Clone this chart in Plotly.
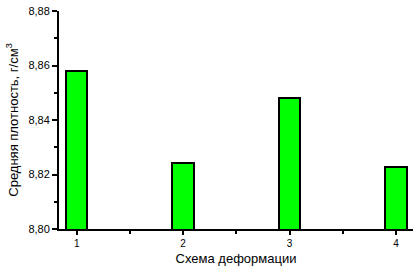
import plotly.graph_objects as go

schemes = [1, 2, 3, 4]
density = [8.858, 8.8244, 8.848, 8.8226]
y_ticks = [8.80, 8.82, 8.84, 8.86, 8.88]
x_title = "Схема деформации"
y_title = "Средняя плотность, г/см<sup>3</sup>"

fig = go.Figure()
fig.add_trace(go.Bar(
    x=schemes, y=density, width=0.2,
    marker=dict(color="#00FF00", line=dict(color="black", width=2)),
))

font = dict(family="Liberation Sans, Arial, sans-serif", color="black")
fig.update_layout(
    width=418, height=269,
    margin=dict(l=59, r=5, t=10, b=38),
    plot_bgcolor="white", paper_bgcolor="white",
    separators=", ",
    showlegend=False,
    font=dict(size=11, **font),
    bargap=0,
)
fig.update_xaxes(
    range=[0.834, 4.16], tickvals=schemes, ticktext=[str(s) for s in schemes],
    ticks="outside", ticklen=4, tickwidth=2, tickcolor="black",
    showline=True, linecolor="black", linewidth=2, showgrid=False, zeroline=False,
    minor=dict(tickvals=[1.5, 2.5, 3.5], ticks="outside", ticklen=3, tickwidth=2, tickcolor="black"),
    title=dict(text=x_title, font=dict(size=13), standoff=6),
    tickfont=dict(size=10),
)
fig.update_yaxes(
    range=[8.80, 8.88], tickvals=y_ticks, tickformat=".2f",
    ticks="outside", ticklen=5, tickwidth=2, tickcolor="black",
    showline=True, linecolor="black", linewidth=2, showgrid=False, zeroline=False,
    minor=dict(dtick=0.01, ticks="outside", ticklen=3, tickwidth=2, tickcolor="black"),
    title=dict(text=y_title, font=dict(size=13), standoff=7),
    tickfont=dict(size=11),
)
fig.write_html("out.html")
